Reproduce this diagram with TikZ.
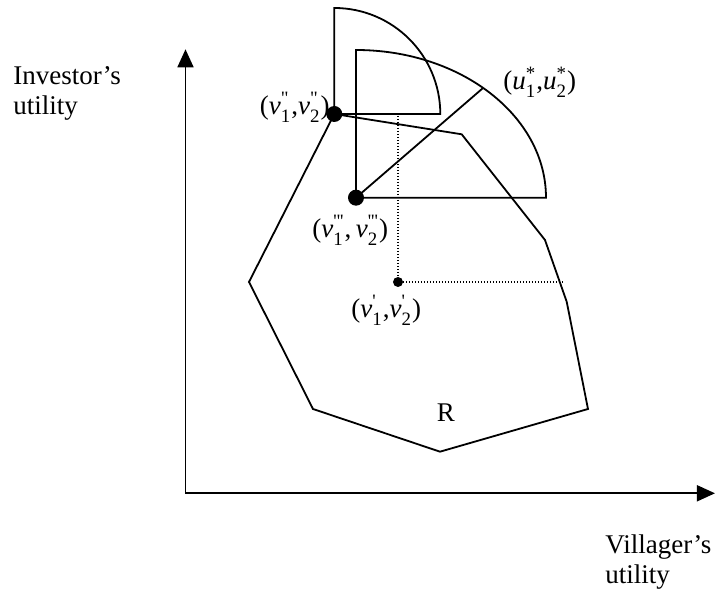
\documentclass[tikz,border=0pt]{standalone}
\usepackage{amsmath}
\usepackage{fontspec}
\setmainfont{Liberation Serif}
\newfontfamily\tickfont{Liberation Serif}
\usetikzlibrary{arrows.meta, calc}
\newcommand{\upt}[3]{\ensuremath{\textit{#1}^{\text{\tickfont #3}}_{\text{#2}}}}
\tikzset{
  edge/.style={line width=0.9pt, line join=miter},
  guide/.style={line width=0.6pt, dash pattern=on 0.6pt off 0.9pt},
  axis/.style={line width=0.85pt, -{Triangle[length=9pt,width=8pt]}},
  bigdot/.style={circle, fill, inner sep=0pt, minimum size=8pt},
  smalldot/.style={circle, fill, inner sep=0pt, minimum size=5pt},
  lbl/.style={font=\fontsize{13.5}{15}\selectfont, inner sep=0pt},
}

\begin{document}
\begin{tikzpicture}[x=0.5pt, y=-0.5pt]
  \useasboundingbox (0,0) rectangle (720,592);
  % axes
  \coordinate (O) at (185.5,493.3);
  \coordinate (ytip) at (185.5,49.3);
  \coordinate (xtip) at (715,493.3);
  \draw[axis] (O) -- (ytip);
  \draw[axis] (O) -- (xtip);
  \node[lbl, anchor=north west, align=left] (ylab) at (13,66.5) {Investor's\\utility};
  \node[lbl, anchor=north west, align=left] (xlab) at (605,534) {Villager's\\utility};
  % the region R
  \coordinate (vtwo) at (334.3,114);
  \coordinate (vthree) at (356,197.7);
  \coordinate (vone) at (398,282);
  \draw[edge] (vtwo) -- (461.7,134.3) -- (545,240) -- (566.7,301.7) -- (588,409)
    -- (440,451.7) -- (313,409) -- (249,282) -- cycle;
  \node[lbl, anchor=base] (rlab) at (446,421.7) {R};
  % dotted guides
  \coordinate (gtop) at (398,116);
  \coordinate (gend) at (563,282);
  \draw[guide] (gtop) -- (vone) -- (gend);
  % the two sectors
  \draw[edge] (vtwo) -- ++(0,-106) arc[start angle=270, end angle=360, radius=106] -- cycle;
  \draw[edge] (vthree) -- ++(0,-147.7) arc[start angle=270, end angle=360, x radius=190, y radius=147.7] -- cycle;
  \coordinate (ustar) at ($(vthree)+(312:190 and 147.7)$);
  \draw[edge] (vthree) -- (ustar);
  % points
  \node[bigdot] (ptwo) at (vtwo) {};
  \node[bigdot] (pthree) at (vthree) {};
  \node[smalldot] (pone) at (vone) {};
  \node[lbl, anchor=base east] (ltwo) at (330,115) {(\upt{v}{1}{"},\upt{v}{2}{"})};
  \node[lbl, anchor=base west] (lthree) at (312,238) {(\upt{v}{1}{'''},\,\upt{v}{2}{'''})};
  \node[lbl, anchor=base west] (lone) at (351,318) {(\upt{v}{1}{'},\upt{v}{2}{'})};
  \node[lbl, anchor=base west] (lstar) at (503,90) {(\upt{u}{1}{*},\upt{u}{2}{*})};
\end{tikzpicture}
\end{document}
